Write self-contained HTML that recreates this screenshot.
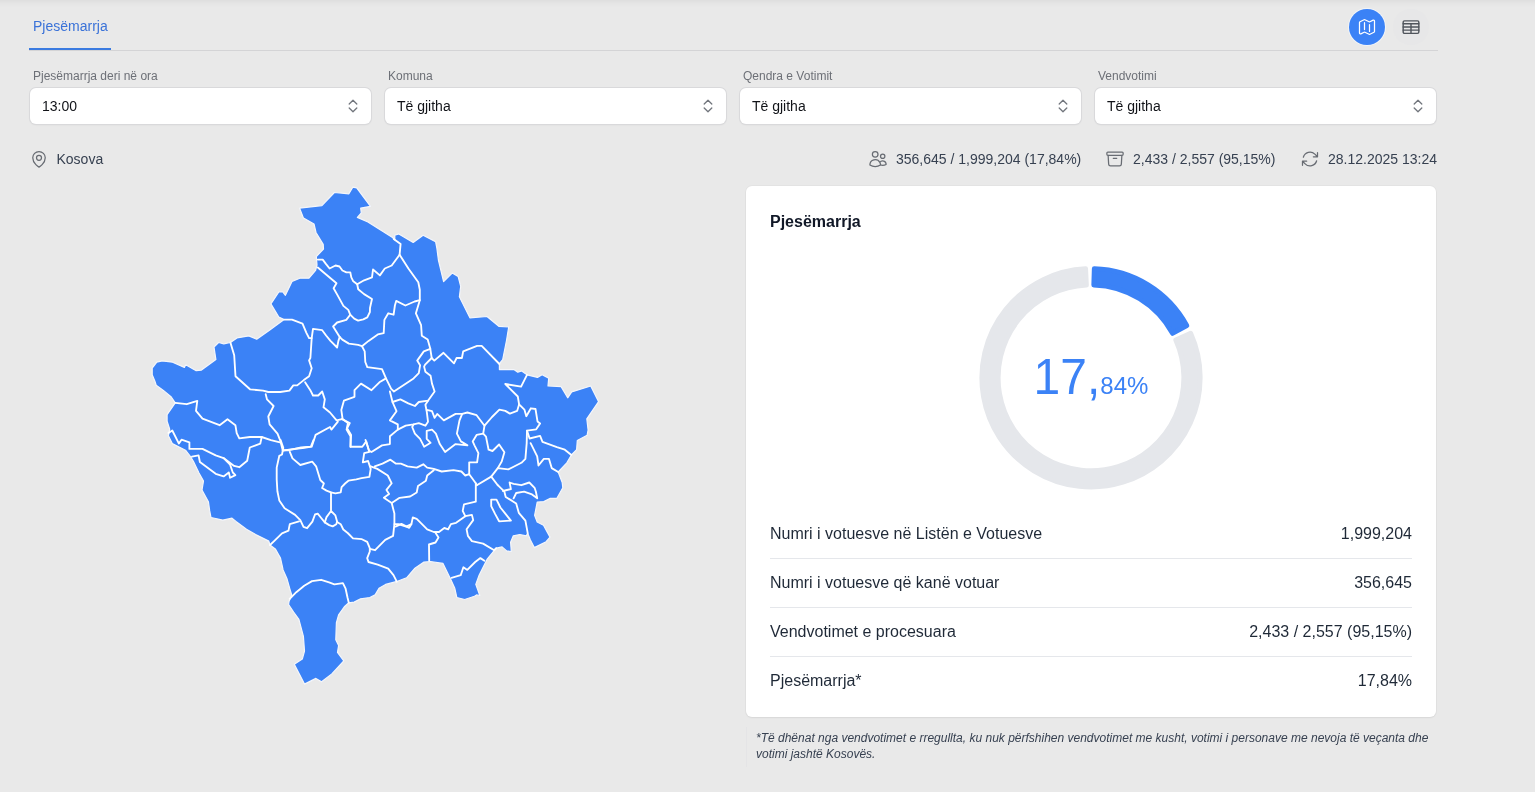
<!DOCTYPE html>
<html lang="sq">
<head>
<meta charset="utf-8">
<title>Pjesëmarrja</title>
<style>
*{box-sizing:border-box;margin:0;padding:0}
html,body{width:1535px;height:792px;overflow:hidden}
body{background:#e9e9e9;font-family:"Liberation Sans",Arial,Helvetica,sans-serif;color:#1f2937;position:relative}
.topshade{position:absolute;left:0;top:0;width:1535px;height:1px;background:#dfdfdf;box-shadow:0 1px 0 #e1e1e1,0 2px 0 #e3e3e3,0 3px 0 #e5e5e5,0 4px 0 #e6e6e6,0 5px 0 #e7e7e7,0 6px 0 #e8e8e8}
.abs{position:absolute}
.tab{left:33px;top:16px;font-size:14px;line-height:20px;color:#3a72d8;white-space:nowrap}
.tabline{left:29px;top:48px;width:82px;height:2px;background:#3b7be0}
.hr{left:29px;top:50px;width:1409px;height:1px;background:#d4d4d6}
.btn{width:36px;height:36px;border-radius:50%;top:9px}
.btn.map{left:1349px;background:#3b82f6;box-shadow:0 0 0 1px rgba(245,249,255,.7)}
.btn.tbl{left:1393px;background:#e7e7e8}
.btn svg{position:absolute;left:8px;top:8px;width:20px;height:20px}
.lbl{font-size:12px;line-height:16px;color:#6d7077;top:67.5px;white-space:nowrap}
.sel{top:88px;height:36px;width:341px;background:#fff;border-radius:6px;box-shadow:0 0 0 1px #d9d9db,0 1px 2px rgba(0,0,0,.08)}
.sel span{position:absolute;left:12px;top:8px;font-size:14px;line-height:20px;color:#111318;white-space:nowrap}
.sel svg{position:absolute;right:8px;top:8px;width:20px;height:20px}
.loc{left:29px;top:149px;height:20px}
.loc svg{position:absolute;left:0;top:0;width:20px;height:20px}
.loc span{position:absolute;left:27.5px;top:0;font-size:14px;line-height:20px;color:#374151;white-space:nowrap}
.stat{top:149px;height:20px}
.stat svg{position:absolute;left:0;top:0;width:20px;height:20px}
.stat span{position:absolute;left:28px;top:0;font-size:14px;line-height:20px;color:#374151;white-space:nowrap}
.card{left:746px;top:186px;width:690px;height:531px;background:#fff;border-radius:6px;box-shadow:0 0 0 1px rgba(0,0,0,.025),0 1px 2px rgba(0,0,0,.05)}
.ctitle{left:770px;top:210px;font-size:16px;line-height:24px;font-weight:bold;color:#111827;white-space:nowrap}
.row{left:770px;width:642px;height:48px}
.row .k{position:absolute;left:0;top:12px;font-size:16px;line-height:24px;color:#1f2937;white-space:nowrap}
.row .v{position:absolute;right:0;top:12px;font-size:16px;line-height:24px;color:#1f2937;white-space:nowrap}
.sep{left:770px;width:642px;height:1px;background:#e5e7eb}
.big{left:991px;width:200px;top:348px;text-align:center;color:#3b82f6;white-space:nowrap;line-height:60px}
.big .a{font-size:48px;display:inline-block;transform:scaleY(1.05);transform-origin:50% 46.6px;line-height:60px}
.big .b{font-size:24px}
.note{left:746px;top:727px;width:690px;height:40px;border-left:1px solid #e4e4e6}
.note p{position:absolute;left:9px;top:3px;width:680px;font-size:12px;line-height:16px;font-style:italic;color:#374151}
</style>
</head>
<body>
<div class="topshade"></div>

<div class="abs tab">Pjesëmarrja</div>
<div class="abs tabline"></div>
<div class="abs hr"></div>

<div class="abs btn map"><svg viewBox="0 0 24 24" fill="none" stroke="#fff" stroke-width="1.5" stroke-linecap="round" stroke-linejoin="round"><path d="M9 6.75V15m6-6v8.25m.503 3.498 4.875-2.437c.381-.19.622-.58.622-1.006V4.82c0-.836-.88-1.38-1.628-1.006l-3.869 1.934c-.317.159-.69.159-1.006 0L9.503 3.252a1.125 1.125 0 0 0-1.006 0L3.622 5.689C3.24 5.88 3 6.27 3 6.695V19.18c0 .836.88 1.38 1.628 1.006l3.869-1.934c.317-.159.69-.159 1.006 0l4.994 2.497c.317.158.69.158 1.006 0Z"/></svg></div>
<div class="abs btn tbl"><svg viewBox="0 0 24 24" fill="none" stroke="#50555c" stroke-width="1.7" stroke-linecap="round" stroke-linejoin="round"><rect x="2.6" y="4.6" width="18.8" height="15" rx="1.6"/><path d="M2.6 8.1h18.8M2.6 11.9h18.8M2.6 15.7h18.8M12 8.1v11.5"/></svg></div>

<div class="abs lbl" style="left:33px">Pjesëmarrja deri në ora</div>
<div class="abs lbl" style="left:388px">Komuna</div>
<div class="abs lbl" style="left:743px">Qendra e Votimit</div>
<div class="abs lbl" style="left:1098px">Vendvotimi</div>

<div class="abs sel" style="left:30px"><span>13:00</span><svg viewBox="0 0 20 20" fill="none" stroke="#72767d" stroke-width="1.3" stroke-linecap="round" stroke-linejoin="round"><path d="M6.2 8 10 4.2 13.8 8M6.2 12 10 15.8 13.8 12"/></svg></div>
<div class="abs sel" style="left:385px"><span>Të gjitha</span><svg viewBox="0 0 20 20" fill="none" stroke="#72767d" stroke-width="1.3" stroke-linecap="round" stroke-linejoin="round"><path d="M6.2 8 10 4.2 13.8 8M6.2 12 10 15.8 13.8 12"/></svg></div>
<div class="abs sel" style="left:740px"><span>Të gjitha</span><svg viewBox="0 0 20 20" fill="none" stroke="#72767d" stroke-width="1.3" stroke-linecap="round" stroke-linejoin="round"><path d="M6.2 8 10 4.2 13.8 8M6.2 12 10 15.8 13.8 12"/></svg></div>
<div class="abs sel" style="left:1095px"><span>Të gjitha</span><svg viewBox="0 0 20 20" fill="none" stroke="#72767d" stroke-width="1.3" stroke-linecap="round" stroke-linejoin="round"><path d="M6.2 8 10 4.2 13.8 8M6.2 12 10 15.8 13.8 12"/></svg></div>

<div class="abs loc"><svg viewBox="0 0 24 24" fill="none" stroke="#686c73" stroke-width="1.5" stroke-linecap="round" stroke-linejoin="round"><path d="M15 10.5a3 3 0 1 1-6 0 3 3 0 0 1 6 0Z"/><path d="M19.5 10.5c0 7.142-7.5 11.25-7.5 11.25S4.5 17.642 4.5 10.5a7.5 7.5 0 1 1 15 0Z"/></svg><span>Kosova</span></div>

<div class="abs stat" style="left:868px"><svg viewBox="0 0 24 24" fill="none" stroke="#686c73" stroke-width="1.5" stroke-linecap="round" stroke-linejoin="round"><path d="M15 19.128a9.38 9.38 0 0 0 2.625.372 9.337 9.337 0 0 0 4.121-.952 4.125 4.125 0 0 0-7.533-2.493M15 19.128v-.003c0-1.113-.285-2.16-.786-3.07M15 19.128v.106A12.318 12.318 0 0 1 8.624 21c-2.331 0-4.512-.645-6.374-1.766l-.001-.109a6.375 6.375 0 0 1 11.964-3.07M12 6.375a3.375 3.375 0 1 1-6.75 0 3.375 3.375 0 0 1 6.75 0Zm8.25 2.25a2.625 2.625 0 1 1-5.25 0 2.625 2.625 0 0 1 5.25 0Z"/></svg><span>356,645 / 1,999,204 (17,84%)</span></div>
<div class="abs stat" style="left:1105px"><svg viewBox="0 0 24 24" fill="none" stroke="#686c73" stroke-width="1.5" stroke-linecap="round" stroke-linejoin="round"><path d="m20.25 7.5-.625 10.632a2.25 2.25 0 0 1-2.247 2.118H6.622a2.25 2.25 0 0 1-2.247-2.118L3.75 7.5M10 11.25h4M3.375 7.5h17.25c.621 0 1.125-.504 1.125-1.125v-1.5c0-.621-.504-1.125-1.125-1.125H3.375c-.621 0-1.125.504-1.125 1.125v1.5c0 .621.504 1.125 1.125 1.125Z"/></svg><span>2,433 / 2,557 (95,15%)</span></div>
<div class="abs stat" style="left:1300px"><svg viewBox="0 0 24 24" fill="none" stroke="#686c73" stroke-width="1.5" stroke-linecap="round" stroke-linejoin="round"><path d="M16.023 9.348h4.992v-.001M2.985 19.644v-4.992m0 0h4.992m-4.993 0 3.181 3.183a8.25 8.25 0 0 0 13.803-3.7M4.031 9.865a8.25 8.25 0 0 1 13.803-3.7l3.181 3.182m0-4.991v4.99"/></svg><span>28.12.2025 13:24</span></div>

<svg class="abs" style="left:0;top:0" width="740" height="792" viewBox="0 0 740 792">
<path d="M299.6,208.2 L321.9,205.6 L334.4,192.5 L348.9,193.8 L352.8,187.2 L356.7,187.9 L370.5,206.3 L360.7,208.2 L361.3,212.8 L357.4,217.4 L367.9,222.0 L392.9,237.8 L394.8,239.8 L394.8,235.2 L398.8,233.9 L413.2,242.4 L423.1,235.2 L435.6,241.7 L436.9,248.3 L438.4,260.0 L443.6,281.7 L452.2,273.1 L458.1,276.4 L460.7,286.3 L459.4,296.8 L469.9,317.8 L487.0,316.5 L498.8,326.3 L508.7,327.0 L506.6,340.0 L502.7,359.7 L499.4,363.6 L499.4,369.6 L513.9,369.6 L517.8,372.2 L521.7,370.9 L527.0,374.8 L537.5,377.4 L542.1,374.8 L548.7,378.1 L548.0,386.0 L561.1,386.6 L567.7,397.8 L571.7,391.9 L590.7,386.0 L598.6,401.7 L586.8,418.8 L588.1,430.0 L587.1,435.3 L577.3,440.5 L576.6,449.7 L571.4,455.0 L566.8,462.8 L558.2,472.0 L562.2,482.5 L562.8,487.8 L556.9,498.3 L550.3,498.3 L543.8,501.6 L537.2,502.2 L534.6,515.4 L537.2,522.0 L543.5,525.3 L550.0,537.1 L546.1,541.7 L534.3,547.6 L530.3,539.7 L527.7,533.1 L526.4,535.8 L519.8,534.5 L513.3,535.8 L510.6,542.3 L511.3,551.5 L506.7,550.9 L502.1,546.9 L496.2,548.2 L487.0,559.4 L479.1,575.2 L475.8,584.4 L479.8,595.5 L476.5,594.9 L474.5,596.2 L464.7,599.5 L456.8,597.5 L454.8,588.3 L450.9,579.8 L443.0,563.4 L430.5,561.5 L424.0,562.0 L414.5,568.6 L406.6,577.8 L396.1,581.7 L385.6,584.4 L379.0,588.3 L375.1,594.9 L369.8,597.5 L360.6,598.8 L354.1,602.1 L348.8,602.8 L344.3,606.8 L338.6,614.8 L336.4,622.7 L335.8,639.8 L338.6,645.5 L337.5,652.3 L343.8,660.8 L331.8,673.9 L321.6,681.8 L315.9,678.4 L304.5,684.1 L294.3,664.2 L302.3,659.1 L304.5,651.1 L303.4,636.4 L298.9,619.3 L293.6,612.0 L288.6,604.5 L289.0,601.4 L291.7,594.9 L289.7,588.3 L287.1,579.1 L283.1,569.9 L280.5,558.1 L275.3,548.9 L270.0,545.0 L268.8,541.1 L255.7,534.6 L246.5,529.3 L236.0,521.4 L232.0,518.2 L222.8,520.1 L211.0,517.5 L209.7,510.9 L208.4,501.7 L202.0,490.0 L203.5,481.0 L199.0,473.0 L193.5,461.5 L190.5,456.5 L185.5,450.2 L172.3,443.6 L168.4,435.7 L169.7,429.2 L167.1,421.3 L167.1,414.7 L175.2,402.9 L171.3,397.0 L163.4,390.4 L156.2,385.2 L154.9,381.2 L152.2,374.7 L152.2,368.1 L156.8,362.2 L162.1,360.9 L172.6,362.2 L184.4,367.4 L185.7,364.8 L196.2,370.7 L201.5,370.1 L215.9,359.6 L214.0,347.1 L218.6,342.5 L223.8,343.8 L230.4,342.5 L237.0,337.9 L248.8,335.9 L256.7,339.2 L269.8,330.0 L284.1,319.6 L278.8,317.0 L270.9,303.9 L278.8,292.0 L282.8,292.0 L285.4,295.3 L292.0,281.5 L299.8,278.2 L309.0,278.2 L315.6,270.4 L317.0,265.0 L316.3,256.6 L323.5,249.0 L323.2,244.4 L316.0,232.5 L314.0,224.0 L303.5,218.1Z" fill="#3b82f6" stroke="#f4f6fb" stroke-width="1.2" stroke-linejoin="round"/>
<g fill="none" stroke="#ffffff" stroke-width="1.85" stroke-linejoin="round" stroke-linecap="round">
<polyline points="317.8,259.6 322.7,259.6 325.7,263.6 329.6,268.5 335.5,265.5 339.5,266.5 342.4,270.5 346.4,272.4 350.3,272.4 351.3,277.4 353.3,281.3 357.2,284.3 364.1,280.3 372.0,277.4 373.0,269.5 379.9,275.4 384.8,268.5 391.7,265.5 399.6,254.7 400.6,243.9 393.7,238.9"/>
<polyline points="399.6,254.7 408.4,268.5 418.3,282.3 419.8,289.7 419.8,300.2 415.9,313.3 421.1,325.2 421.8,335.7 427.7,339.6 430.3,348.8 431.7,358.0 434.3,360.6 443.5,352.8 454.0,363.3 456.6,358.0 461.9,358.0 463.2,351.4 477.1,345.9 481.7,345.9 499.4,364.0"/>
<polyline points="317.8,267.5 336.5,283.3 333.6,288.2 337.5,295.1 343.4,305.9 348.3,309.9 350.2,314.7"/>
<polyline points="357.2,284.3 358.2,289.2 364.1,294.1 372.0,299.0 370.0,307.9 369.9,312.0 367.3,317.3 363.3,319.3 358.1,320.6 354.2,318.6 350.2,314.7"/>
<polyline points="350.2,314.7 346.3,319.9 337.1,322.5 333.1,326.5 339.7,337.0 342.3,339.6 348.9,343.6 358.1,344.9 362.0,346.2 368.6,340.9 377.8,334.4 383.7,333.1 384.4,319.9 388.3,313.3 393.6,314.7 394.9,305.5 396.2,300.9 405.4,305.5 414.6,301.5 419.8,300.2"/>
<polyline points="311.7,338.1 313.0,328.9 322.2,330.2 326.1,335.5 330.5,340.9 337.1,347.5 338.4,340.9 339.7,337.0"/>
<polyline points="284.1,319.6 292.0,319.6 302.5,323.6 306.4,332.8 309.1,338.1 311.7,338.1 310.4,357.8 309.1,360.4 311.7,368.3 309.1,376.2 303.8,380.1 297.2,385.4 293.3,385.4 289.4,390.6 280.2,392.0 268.3,392.0 263.1,390.6 250.0,389.3 235.5,376.2 234.2,355.2 230.4,342.5"/>
<polyline points="305.1,382.3 310.3,390.2 313.0,395.5 318.2,395.5 322.2,391.5 324.8,399.4 323.5,407.3 330.0,412.5 336.6,420.4 341.9,419.1"/>
<polyline points="362.0,346.2 364.7,351.4 365.3,362.0 367.3,367.2 382.0,369.2 386.0,378.4 391.2,388.9 393.9,391.5 413.6,378.4 418.8,373.1 420.1,365.3 417.2,360.6 423.8,351.4 430.3,348.8"/>
<polyline points="431.7,358.0 425.1,364.6 424.1,366.6 425.4,371.8 430.6,375.8 432.0,383.6 434.6,391.5 428.0,400.7 418.8,402.0 414.9,406.0 408.3,403.3 400.4,399.4 392.5,402.0"/>
<polyline points="386.0,378.4 379.4,382.3 371.5,390.2 361.0,383.6 354.5,390.2 354.5,396.8 343.9,400.7 341.3,409.9 342.6,419.1 347.9,423.1 346.6,429.6 350.5,436.2 350.5,446.7 362.3,446.7 366.3,441.4 368.9,450.6 371.5,452.0 382.0,445.4 389.9,444.1 389.9,436.2 397.8,429.6 397.8,424.4 389.9,420.4 396.5,411.2 392.5,402.0 389.9,391.5"/>
<polyline points="428.0,400.7 425.4,404.7 426.7,411.2 428.0,421.7 425.4,425.7 418.8,423.1 413.6,424.4 405.7,425.7 397.8,429.6"/>
<polyline points="426.7,409.9 432.0,411.2 434.6,417.8 437.2,413.9 443.8,420.4 455.6,413.9 462.2,413.9 467.4,412.5 476.6,415.2 484.5,425.7 492.0,417.0 499.4,409.6 505.3,410.9 509.9,413.6 517.1,410.9 519.1,404.4 517.8,396.5 505.3,384.0 521.1,386.6 527.0,374.8"/>
<polyline points="462.2,413.9 459.5,420.4 456.9,433.6 460.9,441.4 467.4,445.4 455.6,444.1 445.1,452.0 439.8,444.1 435.9,433.6 432.0,429.6 426.7,430.9 426.7,438.8 430.6,442.8 424.1,446.7 420.1,438.8 414.9,433.6 412.2,427.0 413.6,424.4"/>
<polyline points="484.5,425.7 483.2,433.6 476.6,434.9 472.7,441.4 474.5,445.3 478.4,453.1 477.1,462.3 469.2,462.3 469.2,474.2"/>
<polyline points="483.2,433.6 486.0,436.6 488.6,449.7 492.5,451.0 499.1,444.5 504.4,452.3 501.7,461.5 497.8,468.1"/>
<polyline points="519.1,404.4 524.4,409.6 526.3,416.2 530.9,408.3 535.5,409.0 537.5,421.4 540.1,423.4 536.2,429.3 527.0,430.6 526.7,443.1 525.4,458.9 521.4,462.8 513.6,466.8 508.3,469.4 497.8,468.1 491.2,476.6 476.8,485.2"/>
<polyline points="527.0,430.6 529.6,438.5 540.1,435.9 542.5,441.8 556.9,447.1 564.8,449.7 571.4,455.0"/>
<polyline points="530.6,443.1 537.2,456.3 538.5,465.5 543.8,458.9 549.0,458.9 551.7,468.1 558.2,472.0"/>
<polyline points="497.8,485.2 504.4,491.7 505.7,497.0 512.2,500.9 516.2,503.6 518.8,512.8 525.4,520.6 527.7,533.1"/>
<polyline points="491.2,476.6 497.8,485.2"/>
<polyline points="503.0,491.0 510.9,489.1 509.6,482.5 513.6,483.9 521.4,485.2 529.3,482.5 534.6,487.8 535.9,491.7 537.2,498.3 532.0,494.4 524.1,491.7 516.2,493.0 513.6,498.3"/>
<polyline points="491.2,499.6 496.5,499.6 500.4,507.5 505.7,514.1 510.9,520.6 499.1,521.3 495.2,514.1 491.2,506.2 491.2,499.6"/>
<polyline points="365.5,440.0 369.4,451.8 364.2,453.1 362.8,462.3 368.1,461.0 370.7,468.9 369.4,476.8 361.5,478.1 356.3,479.4 348.4,480.7 345.1,483.5 341.6,487.1 340.7,492.4 335.4,493.3 331.0,492.4 326.5,490.6 322.1,488.0 323.9,483.5 320.3,480.0 316.1,466.3 312.2,461.7 300.3,465.0 292.5,458.4 289.8,451.8"/>
<polyline points="370.7,466.3 377.3,468.9 387.8,475.5 391.7,483.3 386.5,489.9 389.1,493.9 383.9,497.8 391.7,503.1 394.4,513.6 394.4,524.1 393.1,535.9 385.2,539.8 375.1,550.2 369.8,548.9"/>
<polyline points="374.7,466.3 382.5,463.6 390.4,459.7 395.7,463.6 400.9,463.6 407.5,466.3 416.7,467.6 423.3,464.3 427.2,467.6 433.8,468.9 441.7,471.5 453.5,470.2 461.4,471.5 465.3,475.5 469.2,474.2 475.8,483.3 476.8,485.2"/>
<polyline points="433.8,470.2 427.2,475.5 425.9,480.7 418.0,486.0 416.7,492.5 410.1,496.5 399.6,497.8 391.7,503.1"/>
<polyline points="475.8,483.3 475.8,501.7 464.0,504.4 462.7,510.9 465.3,516.2 456.1,522.8 450.9,524.1 448.2,529.3 444.3,528.0 439.0,532.0 433.8,532.0 427.2,529.3 422.0,524.1 416.7,518.8 412.8,517.5 411.4,524.1 406.2,526.7 398.3,524.1 394.4,524.1"/>
<polyline points="465.3,516.2 471.9,514.9 473.2,520.1 466.6,529.3 467.9,535.9 471.9,541.1 483.1,543.6 494.2,550.2 496.2,548.2"/>
<polyline points="435.0,532.0 438.5,537.5 435.5,542.5 429.0,544.5 429.2,560.7"/>
<polyline points="337.1,522.0 340.7,524.2 343.3,529.5 347.7,533.0 353.0,538.4 361.9,539.2 367.2,541.9 369.8,548.1 369.8,551.5 367.2,558.1 368.5,562.0 377.7,564.7 388.2,568.6 393.5,575.2 396.8,581.7"/>
<polyline points="395.5,526.6 401.4,523.9 409.2,527.9 411.4,524.1"/>
<polyline points="451.5,577.8 460.7,575.2 463.4,567.3 467.3,569.9 475.2,562.0 480.4,558.1 484.4,560.7"/>
<polyline points="289.7,598.8 296.3,592.2 304.2,585.7 312.0,581.1 321.2,579.8 329.1,582.4 334.4,584.4 342.9,583.1 345.5,588.3 347.5,597.5 348.8,602.8"/>
<polyline points="280.6,440.0 283.3,447.9 282.0,454.5 279.3,455.8 276.7,467.6 276.7,479.4 277.4,491.2 279.3,500.4 284.6,508.3 295.1,514.9 300.3,520.1 303.5,526.9 307.1,528.2 312.4,521.6 315.0,514.5 317.7,513.6 321.2,518.0 324.8,522.4"/>
<polyline points="299.0,521.4 289.8,524.1 288.5,530.6 282.0,533.3 274.1,541.1 270.0,545.0"/>
<polyline points="331.0,492.4 331.0,511.0 326.5,517.1 324.8,522.4 329.2,525.1 332.7,526.4 336.3,524.2 337.1,521.6 335.4,515.4 331.0,511.0"/>
<polyline points="282.7,450.2 289.2,450.2 301.1,447.5 310.9,446.6 313.5,440.0"/>
<polyline points="265.7,394.2 267.0,399.4 273.6,406.0 268.3,416.5 269.6,424.4 277.5,433.6 280.1,440.1 282.8,450.6"/>
<polyline points="337.9,421.7 331.4,429.6 330.0,427.0 315.6,434.9 311.7,446.7 302.5,448.0 290.6,449.3 282.8,450.6"/>
<polyline points="341.9,419.1 349.8,423.1 347.1,428.3 351.1,434.9 350.5,446.7"/>
<polyline points="175.2,402.9 186.8,404.2 197.3,400.9 196.0,410.8 202.5,418.6 219.6,425.2 227.5,419.3 235.4,425.2 236.7,433.1 239.3,438.3 249.8,437.0 261.7,437.0 270.9,440.1 280.0,442.3"/>
<polyline points="261.7,437.0 260.3,443.6 249.8,447.5 247.2,460.7 239.3,467.2 234.1,465.9 223.6,458.1 215.7,455.4 202.5,448.9 189.4,448.9 189.4,442.3 181.5,439.7 178.9,443.6 172.3,430.5 168.4,433.1"/>
<polyline points="223.6,458.1 230.1,464.6 232.8,472.5 235.4,475.1 230.1,477.8 228.8,472.5 223.6,476.4 215.7,473.8 199.9,462.0 198.6,455.4 192.0,456.7"/>
</g>
</svg>

<div class="abs card"></div>
<div class="abs ctitle">Pjesëmarrja</div>

<svg class="abs" style="left:0;top:0" width="1535" height="792" viewBox="0 0 1535 792">
<path d="M1190.71,333.27 A109.19999999999999,109.19999999999999 0 1 1 1085.64,268.73 L1086.45,285.11 A92.80000000000001,92.80000000000001 0 1 0 1175.73,339.96Z" fill="#e5e7eb" stroke="#e5e7eb" stroke-width="4.80" stroke-linejoin="round"/>
<path d="M1094.26,268.65 A109.19999999999999,109.19999999999999 0 0 1 1186.89,325.55 L1172.49,333.40 A92.80000000000001,92.80000000000001 0 0 0 1093.77,285.04Z" fill="#3b82f6" stroke="#3b82f6" stroke-width="4.80" stroke-linejoin="round"/>
</svg>
<div class="abs big"><span class="a">17,</span><span class="b">84%</span></div>

<div class="abs row" style="top:510px"><span class="k">Numri i votuesve në Listën e Votuesve</span><span class="v">1,999,204</span></div>
<div class="abs sep" style="top:558px"></div>
<div class="abs row" style="top:559px"><span class="k">Numri i votuesve që kanë votuar</span><span class="v">356,645</span></div>
<div class="abs sep" style="top:607px"></div>
<div class="abs row" style="top:608px"><span class="k">Vendvotimet e procesuara</span><span class="v">2,433 / 2,557 (95,15%)</span></div>
<div class="abs sep" style="top:656px"></div>
<div class="abs row" style="top:657px"><span class="k">Pjesëmarrja*</span><span class="v">17,84%</span></div>

<div class="abs note"><p>*Të dhënat nga vendvotimet e rregullta, ku nuk përfshihen vendvotimet me kusht, votimi i personave me nevoja të veçanta dhe votimi jashtë Kosovës.</p></div>
</body>
</html>
